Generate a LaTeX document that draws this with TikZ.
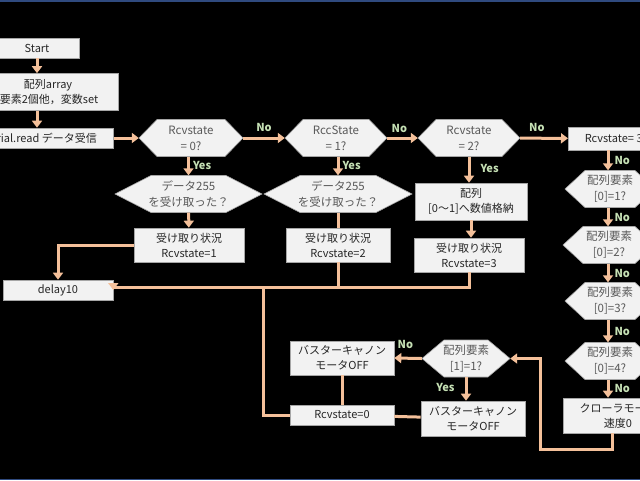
\documentclass[tikz,border=0pt]{standalone}
\usepackage{fontspec}
\setmainfont{Noto Sans CJK JP}
\usetikzlibrary{arrows.meta}
\definecolor{ln}{HTML}{F4C09A}
\definecolor{lab}{HTML}{C5E0B4}
\definecolor{bx}{HTML}{F2F2F2}
\definecolor{bd}{HTML}{A6A6A6}
\definecolor{tx}{HTML}{262626}
\definecolor{htx}{HTML}{595959}
\definecolor{edge}{HTML}{2F4A7F}
\tikzset{
  box/.style={draw=bd,fill=bx,line width=0.6pt,text=tx,align=center,inner sep=0pt,font=\fontsize{11}{15}\selectfont},
  hx/.style={draw=none,text=htx,align=center,inner sep=0pt,font=\fontsize{11.5}{16}\selectfont},
  hxs/.style={draw=bd,fill=bx,line width=0.6pt},
  con/.style={draw=ln,line width=3pt},
  arr/.style={con,-{Triangle[length=7pt,width=10pt]}},
  lb/.style={text=lab,font=\bfseries\fontsize{11}{12}\selectfont,inner sep=0pt}
}
\newcommand{\hexn}[7]{% name x y w h inset text
  \path[hxs] ({#2-#4/2},#3) -- ({#2-#4/2+#6},{#3-#5/2}) -- ({#2+#4/2-#6},{#3-#5/2}) -- ({#2+#4/2},#3) -- ({#2+#4/2-#6},{#3+#5/2}) -- ({#2-#4/2+#6},{#3+#5/2}) -- cycle;
  \node[hx,minimum width=#4,minimum height=#5] (#1) at (#2,#3) {#7};}
\begin{document}
\begin{tikzpicture}[x=1pt,y=-1pt]
\fill[black] (0,0) rectangle (640,480);
\useasboundingbox (0,0) rectangle (640,480);
\begin{scope}
\clip (0,0) rectangle (640,480);
% boxes
\node[box,minimum width=84pt,minimum height=20pt] (start) at (37,48) {Start};
\node[box,minimum width=128pt,minimum height=37pt,text width=124pt] (arr) at (54,92) {\hspace*{-12pt}配列array\\\hspace*{-10pt}要素2個他，変数set};
\node[box,minimum width=150pt,minimum height=20pt,anchor=east] (read) at (114,138) {};
\node[anchor=east,text=tx,font=\fontsize{11}{15}\selectfont,inner sep=0pt] (readt) at (97,138) {Serial.read データ受信};
\hexn{h1}{191}{138}{104}{37}{18}{Rcvstate\\= 0?}
\hexn{h2}{336}{138}{102}{37}{18}{RccState\\= 1?}
\hexn{h3}{469}{138}{102}{37}{18}{Rcvstate\\= 2?}
\node[box,minimum width=96pt,minimum height=23pt,anchor=west] (r3) at (568,138.5) {Rcvstate= 3?};
\hexn{d1}{188.5}{194}{147}{37}{36}{データ255\\を受け取った？}
\hexn{d2}{338}{194}{148}{37}{36}{データ255\\を受け取った？}
\node[box,minimum width=112pt,minimum height=37pt] (store) at (471,201.5) {配列\\{[0〜1]}へ数値格納};
\node[box,minimum width=110pt,minimum height=34pt] (s1) at (189,245) {受け取り状況\\Rcvstate=1};
\node[box,minimum width=104pt,minimum height=34pt] (s2) at (338,245) {受け取り状況\\Rcvstate=2};
\node[box,minimum width=110pt,minimum height=34pt] (s3) at (469,255) {受け取り状況\\Rcvstate=3};
\node[box,minimum width=110pt,minimum height=20pt] (delay) at (58,290) {delay10};
\hexn{e1}{610}{189}{90}{37}{20}{配列要素\\{[0]=1?}}
\hexn{e2}{609}{245}{92}{37}{20}{配列要素\\{[0]=2?}}
\hexn{e3}{610}{301}{90}{37}{20}{配列要素\\{[0]=3?}}
\hexn{e4}{610}{361}{90}{37}{20}{配列要素\\{[0]=4?}}
\node[box,minimum width=110pt,minimum height=35pt] (cr) at (618,415.5) {クローラモータ\\速度0};
\hexn{k1}{466}{358.5}{88}{37}{22}{配列要素\\{[1]=1?}}
\node[box,minimum width=104pt,minimum height=34pt] (b1) at (342,358) {バスターキャノン\\モータOFF};
\node[box,minimum width=104pt,minimum height=20pt] (z) at (342,415) {Rcvstate=0};
\node[box,minimum width=104pt,minimum height=35pt] (b2) at (473,418.5) {バスターキャノン\\モータOFF};
% connectors
\draw[arr] (start) -- (start |- arr.north);
\draw[arr] (start |- arr.south) -- (start |- read.north);
\draw[arr] (read) -- (h1);
\draw[arr] (h1) -- node[lb,above=5pt]{No} (h2);
\draw[arr] (h2) -- node[lb,above=4pt,pos=0.4]{No} (h3);
\draw[arr] (h3) -- node[lb,above=5pt,pos=0.35]{No} (r3);
\draw[arr] (h1.south -| d1) -- node[lb,right=3pt,pos=0.45]{Yes} (d1);
\draw[arr] (h2.south -| d2) -- node[lb,right=3pt,pos=0.45]{Yes} (d2);
\draw[arr] (h3.south) -- node[lb,right=10pt,pos=0.45]{Yes} (store.north -| h3);
\draw[arr] (d1) -- (s1);
\draw[con] (d2) -- (s2);
\draw[arr] (store) -- (s3.north -| store);
\draw[arr] (s1.west) -| (delay.north);
\coordinate (j1) at (263,287);
\draw[con] (s2.south) -- (s2.south |- j1);
\draw[arr] (s3.south) |- (delay.east |- j1) -- (delay.east);
\draw[con] (j1) |- (z.west);
\draw[con] (z) -- (b2);
\draw[con] (b1) -- (z);
\draw[arr] (k1.west) -- node[lb,above=8pt,pos=0.6]{No} (b1.east);
\draw[arr] (k1.south) -- node[lb,left=10pt,pos=0.45]{Yes} (b2.north -| k1);
\draw[arr] (r3.south -| 608,0) -- node[lb,right=5pt]{No} (e1.north -| 608,0);
\draw[arr] (e1.south -| 608,0) -- node[lb,right=5pt]{No} (e2.north -| 608,0);
\draw[arr] (e2.south -| 608,0) -- node[lb,right=5pt]{No} (e3.north -| 608,0);
\draw[arr] (e3.south -| 608,0) -- node[lb,right=5pt]{No} (e4.north -| 608,0);
\draw[arr] (e4.south -| 608,0) -- node[lb,right=5pt]{No} (cr.north -| 608,0);
\coordinate (lp) at (540,449);
\draw[arr] (cr.south -| 612,0) |- (lp) |- (k1.east);
\end{scope}
\fill[edge] (0,0) rectangle (640,1.5);
\fill[edge] (0,478.5) rectangle (640,480);
\end{tikzpicture}
\end{document}
